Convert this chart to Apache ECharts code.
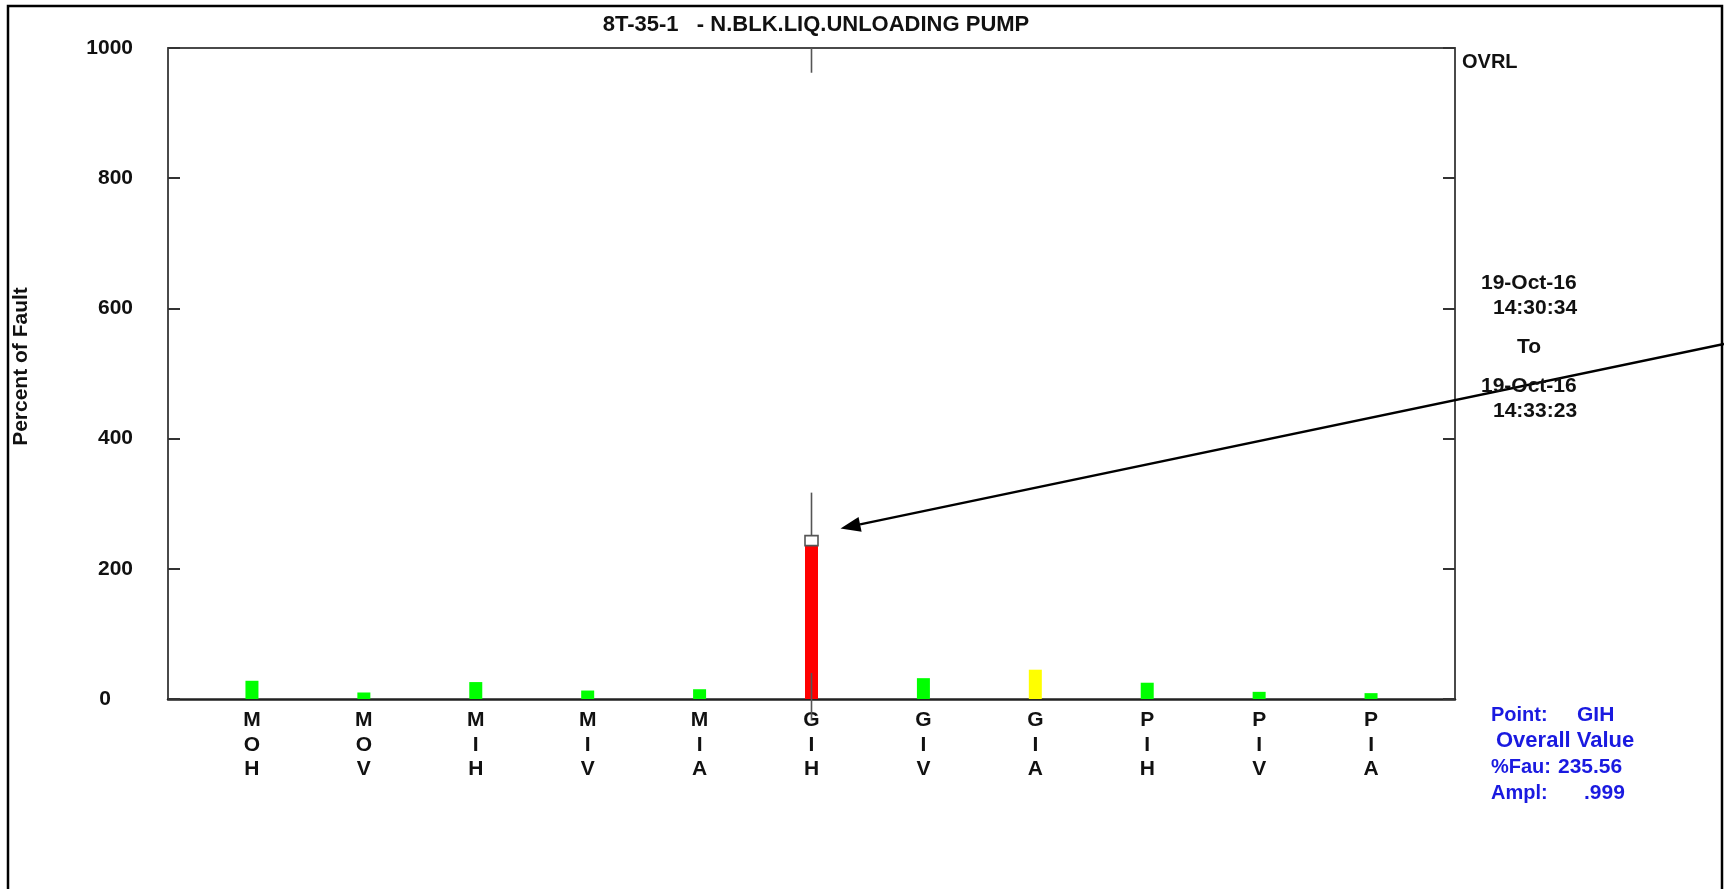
<!DOCTYPE html>
<html>
<head>
<meta charset="utf-8">
<title>8T-35-1 - N.BLK.LIQ.UNLOADING PUMP</title>
<script src="https://cdn.jsdelivr.net/npm/echarts@6/dist/echarts.min.js"></script>
<style>
  html, body { margin: 0; padding: 0; background: #fff; }
  #chart { width: 1724px; height: 889px; }
</style>
</head>
<body>
<div id="chart"></div>
<script>
// Measurement points (machine / location / direction codes)
const categories = ['MOH', 'MOV', 'MIH', 'MIV', 'MIA', 'GIH', 'GIV', 'GIA', 'PIH', 'PIV', 'PIA'];
// Overall percent of fault for each point
const faultPercent = [28, 10, 26, 13, 15, 235.56, 32, 45, 25, 11, 9];
// Alarm state of each point
const alarmState = ['ok', 'ok', 'ok', 'ok', 'ok', 'fault', 'ok', 'alert', 'ok', 'ok', 'ok'];
// Y scale
const yMin = 0;
const yMax = 1000;
const yStep = 200;
// Selected point and its reference marks
const selectedPoint = 'GIH';
const selectedAmpl = '.999';
const refSegments = [[40, -33], [251, 317], [962, 1000]];
const markerBox = [235.56, 251];
// Date range
const dateFrom = ['19-Oct-16', '14:30:34'];
const dateTo = ['19-Oct-16', '14:33:23'];

const stateColor = { ok: '#00ff00', alert: '#ffff00', fault: '#ff0000' };
const FONT = '"Liberation Sans", Arial, Helvetica, sans-serif';
const selIdx = categories.indexOf(selectedPoint);

const chart = echarts.init(document.getElementById('chart'), null, { renderer: 'canvas' });

const axisGray = '#4a4a4a';
const frameAxis = (color, width) => ({
  show: true, onZero: false, lineStyle: { color: color, width: width }
});

const option = {
  animation: false,
  backgroundColor: '#fff',
  title: {
    text: '8T-35-1   - N.BLK.LIQ.UNLOADING PUMP',
    left: 811,
    top: 9,
    textAlign: 'center',
    textStyle: { fontFamily: FONT, fontWeight: 'bold', fontSize: 22, color: '#111' }
  },
  grid: [
    { left: 168, right: 269, top: 48, bottom: 190, containLabel: false },
    { left: 196, right: 297, top: 48, bottom: 190, containLabel: false }
  ],
  xAxis: [
    { type: 'value', gridIndex: 0, min: 0, max: 1, position: 'bottom',
      axisLine: frameAxis('#222', 2.5),
      axisTick: { show: false }, axisLabel: { show: false }, splitLine: { show: false } },
    { type: 'value', gridIndex: 0, min: 0, max: 1, position: 'top',
      axisLine: frameAxis(axisGray, 2),
      axisTick: { show: false }, axisLabel: { show: false }, splitLine: { show: false } },
    { type: 'category', gridIndex: 1, data: categories, boundaryGap: true,
      axisLine: { show: false }, axisTick: { show: false }, splitLine: { show: false },
      axisLabel: {
        interval: 0, margin: 9,
        fontFamily: FONT, fontWeight: 'bold', fontSize: 21, color: '#111',
        lineHeight: 24.5, verticalAlign: 'top',
        formatter: v => v.split('').join('\n')
      } }
  ],
  yAxis: [
    { type: 'value', gridIndex: 0, min: yMin, max: yMax, interval: yStep, position: 'left',
      name: 'Percent of Fault', nameLocation: 'middle', nameGap: 136, nameRotate: 90,
      nameTextStyle: { fontFamily: FONT, fontWeight: 'bold', fontSize: 21, color: '#111', padding: [0, 0, 0, 14] },
      axisLine: frameAxis(axisGray, 2),
      axisTick: { show: true, inside: true, length: 12, lineStyle: { color: '#333', width: 2 } },
      axisLabel: {
        margin: 35, fontFamily: FONT, fontWeight: 'bold', fontSize: 21, color: '#111',
        formatter: v => (v === 0 ? '{z|0}' : String(v)),
        rich: { z: { fontFamily: FONT, fontWeight: 'bold', fontSize: 21, color: '#111', padding: [0, 22, 0, 0] } }
      },
      splitLine: { show: false } },
    { type: 'value', gridIndex: 0, min: yMin, max: yMax, interval: yStep, position: 'right',
      axisLine: frameAxis(axisGray, 2),
      axisTick: { show: true, inside: true, length: 12, lineStyle: { color: '#333', width: 2 } },
      axisLabel: { show: false }, splitLine: { show: false } },
    { type: 'value', gridIndex: 1, min: yMin, max: yMax, show: false }
  ],
  series: [
    {
      type: 'bar', xAxisIndex: 2, yAxisIndex: 2, barWidth: 13, z: 2,
      data: faultPercent.map((v, i) => ({ value: v, itemStyle: { color: stateColor[alarmState[i]] } }))
    },
    {
      type: 'custom', xAxisIndex: 2, yAxisIndex: 2, clip: false, z: 4, silent: true,
      data: refSegments.map(s => [selIdx, s[0], s[1]]),
      renderItem: (params, api) => {
        const a = api.coord([api.value(0), api.value(1)]);
        const b = api.coord([api.value(0), api.value(2)]);
        return { type: 'line', shape: { x1: a[0], y1: a[1], x2: b[0], y2: b[1] },
                 style: { stroke: '#555', lineWidth: 1.6 } };
      }
    },
    {
      type: 'custom', xAxisIndex: 2, yAxisIndex: 2, clip: false, z: 5, silent: true,
      data: [[selIdx, markerBox[0], markerBox[1]]],
      renderItem: (params, api) => {
        const lo = api.coord([api.value(0), api.value(1)]);
        const hi = api.coord([api.value(0), api.value(2)]);
        return { type: 'rect', shape: { x: lo[0] - 6.5, y: hi[1], width: 13, height: lo[1] - hi[1] },
                 style: { fill: '#fff', stroke: '#555', lineWidth: 1.6 } };
      }
    }
  ]
};

chart.setOption(option);

// Annotation texts and pointer arrow
function txt(text, x, y, color, size) {
  return { type: 'text', x: x, y: y, z: 10, silent: true,
           style: { text: text, fill: color, font: 'bold ' + (size || 21) + 'px ' + FONT,
                    textAlign: 'left', textVerticalAlign: 'middle' } };
}
const black = '#111';
const blue = '#1a1ae0';

const tip = chart.convertToPixel({ xAxisIndex: 2, yAxisIndex: 2 }, [selIdx, 262]);
tip[0] += 29;
const start = [1724, 344];
const ang = Math.atan2(start[1] - tip[1], start[0] - tip[0]);
const headLen = 20, headHalf = 7.5;
const bx = tip[0] + Math.cos(ang) * headLen, by = tip[1] + Math.sin(ang) * headLen;
const nx = -Math.sin(ang) * headHalf, ny = Math.cos(ang) * headHalf;

chart.setOption({
  graphic: [
    { type: 'rect', silent: true, z: 0,
      shape: { x: 8, y: 6, width: 1714, height: 1000 },
      style: { fill: 'none', stroke: '#000', lineWidth: 2.5 } },
    txt('OVRL', 1462, 62, black, 20),
    txt(dateFrom[0], 1481, 283, black),
    txt(dateFrom[1], 1493, 308, black),
    txt('To', 1517, 347, black),
    txt(dateTo[0], 1481, 386, black),
    txt(dateTo[1], 1493, 411, black),
    txt('Point:', 1491, 715, blue, 20),
    txt(selectedPoint, 1577, 715, blue, 21),
    txt('Overall Value', 1496, 741, blue, 22),
    txt('%Fau:', 1491, 767, blue, 20),
    txt(String(faultPercent[selIdx]), 1558, 767, blue, 21),
    txt('Ampl:', 1491, 793, blue, 20),
    txt(selectedAmpl, 1584, 793, blue, 21),
    { type: 'line', silent: true, z: 9,
      shape: { x1: start[0], y1: start[1], x2: bx, y2: by },
      style: { stroke: '#000', lineWidth: 2.5 } },
    { type: 'polygon', silent: true, z: 9,
      shape: { points: [[tip[0], tip[1]], [bx + nx, by + ny], [bx - nx, by - ny]] },
      style: { fill: '#000' } }
  ]
});
</script>
</body>
</html>
